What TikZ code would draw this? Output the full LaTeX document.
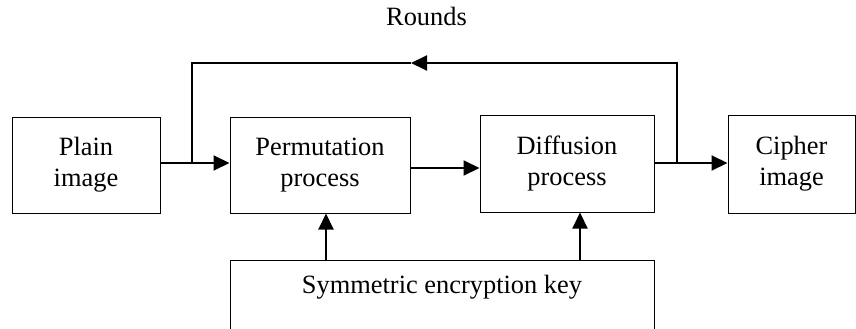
\documentclass[tikz,border=0pt]{standalone}
\usepackage{fontspec}
\setmainfont{Liberation Serif}
\usetikzlibrary{arrows.meta}
\begin{document}
\begin{tikzpicture}[x=1pt,y=-1pt,
  box/.style={draw,line width=1pt,inner sep=0pt,align=center,font=\fontsize{26.4}{31}\selectfont},
  flow/.style={line width=2pt,-{Triangle[length=16pt,width=15pt]}},
  wire/.style={line width=2pt}]
\clip (0,0) rectangle (856,329);
\node[box,minimum width=148pt,minimum height=96pt] (plain) at (86,165) {Plain\\image};
\node[box,minimum width=180pt,minimum height=96pt] (perm) at (320,165) {Permutation\\process};
\node[box,minimum width=174pt,minimum height=97pt] (diff) at (567,163.5) {Diffusion\\process};
\node[box,minimum width=127pt,minimum height=98pt] (cipher) at (791.5,164) {Cipher\\image};
\node[box,minimum width=424pt,minimum height=70pt,text height=18pt,text depth=22pt] (key) at (442,295) {Symmetric encryption key};
\node[font=\fontsize{26.4}{31}\selectfont,anchor=base] (rounds) at (426.5,26) {Rounds};
\coordinate (j1) at (192,163);
\coordinate (j2) at (677,163);
\coordinate (t1) at (192,63);
\coordinate (t2) at (677,63);
\coordinate (tm) at (411,63);
\draw[flow] (plain.east |- j1) -- (perm.west |- j1);
\draw[flow] ([yshift=-3pt]perm.east) -- ([yshift=-3pt]perm.east -| diff.west);
\draw[flow] (diff.east |- j2) -- (cipher.west |- j2);
\draw[flow] (j2) -- (t2) -- (tm);
\draw[wire,line join=miter] (tm) -- (t1) -- (j1);
\draw[flow] (key.north -| 326,0) -- (perm.south -| 326,0);
\draw[flow] (key.north -| 580,0) -- (diff.south -| 580,0);
\end{tikzpicture}
\end{document}
